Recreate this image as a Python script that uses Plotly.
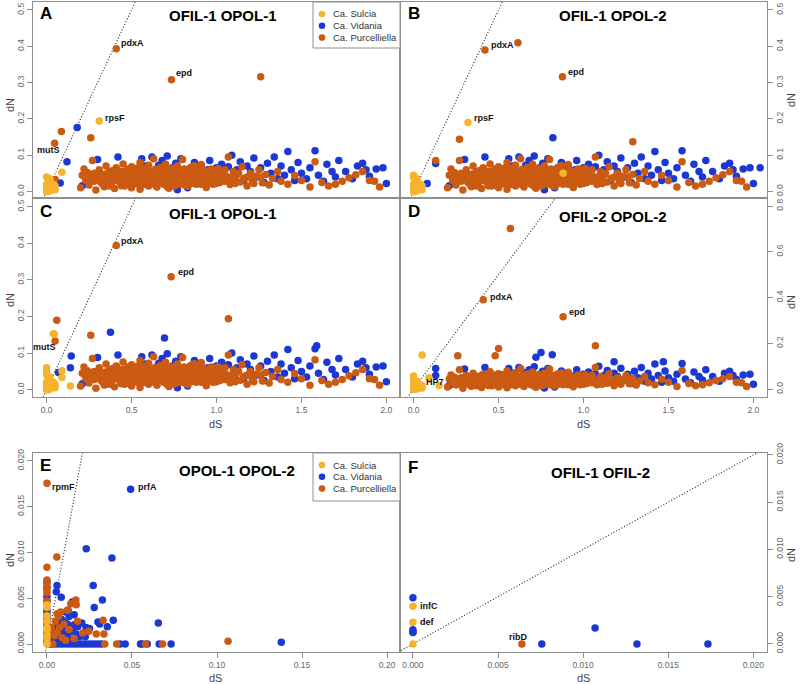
import plotly.graph_objects as go

YELLOW = "#F5B42C"
BLUE = "#1C38D4"
ORANGE = "#CB5A12"
FONT = "Liberation Sans, Arial, sans-serif"

species = ["Ca. Sulcia", "Ca. Vidania", "Ca. Purcelliella"]
species_colors = [YELLOW, BLUE, ORANGE]

# ---------------- shared bulk cloud (panels A-D), (dS, dN) ----------------
bulk_orange = [
    (0.20, 0.010), (0.21, 0.045), (0.22, 0.062), (0.23, 0.030), (0.24, 0.052), (0.25, 0.018), (0.26, 0.040),
    (0.27, 0.085), (0.28, 0.050), (0.29, 0.004), (0.30, 0.035), (0.31, 0.060), (0.32, 0.025), (0.33, 0.047),
    (0.34, 0.013), (0.35, 0.070), (0.36, 0.032), (0.37, 0.055), (0.38, 0.022), (0.39, 0.040), (0.40, 0.008),
    (0.41, 0.065), (0.42, 0.030), (0.43, 0.048), (0.44, 0.016), (0.45, 0.076), (0.46, 0.038), (0.47, 0.056),
    (0.48, 0.025), (0.49, 0.044), (0.50, 0.010), (0.50, 0.068), (0.51, 0.033), (0.52, 0.050), (0.53, 0.021),
    (0.54, 0.042), (0.55, 0.080), (0.55, 0.006), (0.56, 0.036), (0.57, 0.058), (0.58, 0.028), (0.59, 0.046),
    (0.60, 0.015), (0.60, 0.072), (0.61, 0.039), (0.62, 0.053), (0.62, 0.024), (0.63, 0.090), (0.64, 0.034),
    (0.64, 0.061), (0.65, 0.012), (0.66, 0.045), (0.66, 0.027), (0.67, 0.066), (0.68, 0.037), (0.68, 0.051),
    (0.69, 0.020), (0.70, 0.043), (0.70, 0.075), (0.71, 0.031), (0.72, 0.057), (0.72, 0.009), (0.73, 0.040),
    (0.74, 0.024), (0.74, 0.063), (0.75, 0.035), (0.76, 0.048), (0.76, 0.017), (0.77, 0.070), (0.78, 0.030),
    (0.78, 0.054), (0.79, 0.041), (0.80, 0.022), (0.80, 0.088), (0.81, 0.036), (0.82, 0.060), (0.83, 0.014),
    (0.84, 0.046), (0.84, 0.028), (0.85, 0.067), (0.86, 0.038), (0.87, 0.052), (0.88, 0.020), (0.89, 0.043),
    (0.90, 0.032), (0.91, 0.074), (0.92, 0.025), (0.93, 0.049), (0.94, 0.011), (0.95, 0.039), (0.96, 0.058),
    (0.97, 0.030), (0.98, 0.045), (1.00, 0.022), (1.01, 0.063), (1.02, 0.035), (1.03, 0.050), (1.05, 0.028),
    (1.06, 0.041), (1.07, 0.095), (1.08, 0.019), (1.10, 0.055), (1.11, 0.033), (1.12, 0.046), (1.14, 0.026),
    (1.15, 0.068), (1.17, 0.038), (1.18, 0.015), (1.20, 0.050), (1.21, 0.030), (1.23, 0.042), (1.25, 0.060),
    (1.27, 0.024), (1.29, 0.047), (1.31, 0.018), (1.33, 0.036), (1.36, 0.055), (1.38, 0.028), (1.42, 0.020),
    (1.46, 0.044), (1.50, 0.030), (1.55, 0.012), (1.58, 0.082), (1.62, 0.025), (1.66, 0.015), (1.70, 0.020),
    (1.74, 0.028), (1.78, 0.038), (1.82, 0.046), (1.86, 0.055), (1.90, 0.030), (1.93, 0.028), (1.96, 0.012),
    (0.44, 0.052), (0.47, 0.030), (0.49, 0.060), (0.52, 0.038), (0.54, 0.027), (0.57, 0.043), (0.58, 0.064),
    (0.59, 0.019), (0.61, 0.047), (0.63, 0.029), (0.65, 0.054), (0.67, 0.041), (0.69, 0.062), (0.71, 0.014),
    (0.73, 0.049), (0.75, 0.026), (0.77, 0.039), (0.79, 0.059), (0.81, 0.018), (0.83, 0.044), (0.85, 0.031),
    (0.87, 0.071), (0.88, 0.040), (0.90, 0.053), (0.92, 0.036), (0.53, 0.059), (0.56, 0.024), (0.60, 0.034),
    (0.62, 0.041), (0.66, 0.035), (0.70, 0.028), (0.72, 0.045), (0.74, 0.033), (0.76, 0.062), (0.78, 0.046),
    (0.82, 0.027), (0.86, 0.045), (0.48, 0.041), (0.51, 0.024), (0.46, 0.015), (0.31, 0.042), (0.35, 0.048),
    (0.38, 0.035), (0.41, 0.044), (0.43, 0.026), (0.34, 0.030), (0.39, 0.058), (0.45, 0.036), (0.28, 0.028),
    (0.24, 0.034),
]

core_orange = [
    (0.32, 0.040), (0.33, 0.020), (0.36, 0.045), (0.37, 0.015), (0.40, 0.052), (0.40, 0.030), (0.42, 0.058),
    (0.43, 0.040), (0.44, 0.030), (0.45, 0.055), (0.46, 0.025), (0.47, 0.045), (0.48, 0.062), (0.49, 0.020),
    (0.50, 0.038), (0.51, 0.055), (0.52, 0.028), (0.53, 0.045), (0.54, 0.065), (0.55, 0.035), (0.56, 0.050),
    (0.57, 0.020), (0.58, 0.040), (0.59, 0.060), (0.60, 0.025), (0.61, 0.055), (0.62, 0.035), (0.63, 0.048),
    (0.64, 0.018), (0.65, 0.040), (0.66, 0.060), (0.67, 0.030), (0.68, 0.045), (0.69, 0.035), (0.70, 0.055),
    (0.71, 0.042), (0.72, 0.025), (0.73, 0.060), (0.74, 0.045), (0.75, 0.015), (0.76, 0.040), (0.77, 0.055),
    (0.78, 0.022), (0.79, 0.033), (0.80, 0.048), (0.81, 0.062), (0.82, 0.040), (0.83, 0.030), (0.84, 0.055),
    (0.85, 0.022), (0.86, 0.030), (0.87, 0.040), (0.88, 0.058), (0.89, 0.030), (0.90, 0.045), (0.91, 0.020),
    (0.92, 0.060), (0.93, 0.035), (0.94, 0.050), (0.95, 0.025), (0.96, 0.040), (0.97, 0.062), (0.98, 0.020),
    (0.99, 0.035), (1.00, 0.050), (1.02, 0.025), (1.04, 0.045), (1.05, 0.060), (1.07, 0.030), (1.09, 0.040),
    (1.11, 0.022), (1.13, 0.050), (1.16, 0.035), (1.19, 0.042), (1.22, 0.022), (1.26, 0.040), (0.55, 0.048),
    (0.63, 0.038), (0.67, 0.050), (0.71, 0.022), (0.58, 0.052), (0.61, 0.030), (0.65, 0.028), (0.69, 0.048),
    (0.73, 0.030), (0.77, 0.028), (0.81, 0.045), (0.75, 0.052), (0.79, 0.050), (0.83, 0.050),
]

bulk_blue = [
    (0.21, 0.016), (0.27, 0.045), (0.30, 0.088), (0.38, 0.028), (0.42, 0.095), (0.48, 0.038), (0.52, 0.062),
    (0.56, 0.090), (0.58, 0.070), (0.60, 0.045), (0.62, 0.095), (0.64, 0.030), (0.66, 0.072), (0.68, 0.085),
    (0.70, 0.055), (0.71, 0.098), (0.72, 0.040), (0.74, 0.065), (0.76, 0.078), (0.77, 0.005), (0.79, 0.090),
    (0.80, 0.050), (0.82, 0.035), (0.83, 0.010), (0.84, 0.062), (0.86, 0.045), (0.87, 0.080), (0.89, 0.055),
    (0.91, 0.070), (0.93, 0.040), (0.95, 0.060), (0.96, 0.085), (0.98, 0.048), (1.00, 0.065), (1.02, 0.052),
    (1.03, 0.075), (1.05, 0.038), (1.07, 0.068), (1.09, 0.100), (1.10, 0.045), (1.12, 0.060), (1.14, 0.082),
    (1.16, 0.030), (1.18, 0.070), (1.20, 0.055), (1.22, 0.092), (1.24, 0.040), (1.26, 0.065), (1.28, 0.025),
    (1.30, 0.078), (1.32, 0.050), (1.34, 0.095), (1.36, 0.035), (1.38, 0.070), (1.40, 0.045), (1.42, 0.110),
    (1.44, 0.060), (1.46, 0.030), (1.48, 0.080), (1.50, 0.050), (1.53, 0.035), (1.55, 0.065), (1.58, 0.112),
    (1.60, 0.045), (1.63, 0.028), (1.65, 0.075), (1.68, 0.055), (1.70, 0.040), (1.72, 0.085), (1.76, 0.055),
    (1.80, 0.035), (1.83, 0.070), (1.86, 0.078), (1.88, 0.060), (1.90, 0.042), (1.94, 0.062), (1.98, 0.065),
    (2.00, 0.022),
]

yellow_cluster = [
    (0.00, 0.000), (0.01, 0.005), (0.02, 0.010), (0.00, 0.020), (0.01, 0.030), (0.02, 0.035), (0.03, 0.020),
    (0.04, 0.010), (0.03, 0.005), (0.00, 0.010), (0.01, 0.015), (0.02, 0.025), (0.05, 0.005), (0.04, 0.020),
    (0.00, 0.040), (0.01, 0.000), (0.03, 0.012), (0.05, 0.015), (0.02, 0.002),
]

# ---------------- panel-specific points ----------------
A_orange = [(0.41, 0.393), (0.735, 0.308), (1.26, 0.316), (0.047, 0.133), (0.087, 0.165), (0.26, 0.148), (0.05, 0.033)]
A_blue = [(0.18, 0.176), (0.12, 0.082), (0.08, 0.023)]
A_yellow = [(0.31, 0.194), (0.09, 0.053)]

B_orange = [(0.42, 0.39), (0.614, 0.41), (0.876, 0.316), (0.27, 0.144), (1.29, 0.137), (0.13, 0.085)]
B_blue = [(0.82, 0.148), (0.13, 0.077), (0.08, 0.022), (2.04, 0.065)]
B_yellow = [(0.32, 0.19), (0.0, 0.045), (0.88, 0.05)]

C_orange = [(0.41, 0.394), (0.733, 0.309), (1.07, 0.194), (0.06, 0.19), (0.26, 0.149), (0.05, 0.133)]
C_blue = [(0.376, 0.157), (0.694, 0.141), (0.07, 0.047), (0.145, 0.092), (0.14, 0.06), (1.59, 0.12)]
C_yellow = [(0.0, 0.06), (0.0, 0.05), (0.09, 0.052), (0.14, 0.01), (0.09, 0.033), (0.04, 0.153), (0.045, 0.152)]

D_orange = [(0.57, 0.702), (0.41, 0.391), (0.88, 0.316), (1.07, 0.19), (0.50, 0.178), (0.26, 0.146), (0.48, 0.146)]
D_blue = [(0.72, 0.14), (0.75, 0.16), (0.816, 0.151), (1.18, 0.12), (1.47, 0.12), (0.13, 0.09), (0.13, 0.06)]
D_yellow = [(0.05, 0.149), (0.0, 0.058), (0.09, 0.05), (0.15, 0.016)]

E_orange = [
    (0.0, 0.01756), (0.0058, 0.0095), (0.0, 0.0084), (0.0, 0.0070), (0.0, 0.0065), (0.0, 0.0059), (0.0, 0.0056),
    (0.0, 0.0047), (0.0, 0.0030), (0.0, 0.0020), (0.0, 0.0008), (0.0060, 0.0033), (0.0080, 0.0035),
    (0.0068, 0.0030), (0.0120, 0.0037), (0.0140, 0.0044), (0.0170, 0.0048), (0.0172, 0.0043), (0.0100, 0.0022),
    (0.0075, 0.0018), (0.0060, 0.0013), (0.0045, 0.0009), (0.0030, 0.0011), (0.0090, 0.0007), (0.0130, 0.0016),
    (0.0180, 0.0025), (0.0210, 0.0012), (0.0245, 0.0014), (0.0290, 0.0011), (0.0335, 0.0011), (0.0330, 0.0026),
    (0.0160, 0.0006), (0.0110, 0.0004), (0.0050, 0.0025), (0.0025, 0.0018), (0.1065, 0.0003), (0.034, 0.0),
    (0.041, 0.0), (0.058, 0.0), (0.068, 0.0), (0.0035, 0.0), (0.0015, 0.0),
]
E_blue = [
    (0.0492, 0.0169), (0.0231, 0.0104), (0.0382, 0.0094), (0.0059, 0.0064), (0.0055, 0.0057), (0.0084, 0.0051),
    (0.0149, 0.0046), (0.0124, 0.0037), (0.0326, 0.0048), (0.0278, 0.0040), (0.0272, 0.0064), (0.0390, 0.0026),
    (0.0300, 0.0024), (0.0310, 0.0022), (0.0230, 0.0018), (0.0250, 0.0017), (0.0205, 0.0023), (0.0180, 0.0019),
    (0.0160, 0.0021), (0.0140, 0.0018), (0.0120, 0.0022), (0.0100, 0.0024), (0.0085, 0.0027), (0.0070, 0.0025),
    (0.0060, 0.0019), (0.0050, 0.0012), (0.0090, 0.0014), (0.0110, 0.0010), (0.0130, 0.0013), (0.0150, 0.0015),
    (0.0170, 0.0011), (0.0190, 0.0008), (0.0080, 0.0008), (0.0065, 0.0004), (0.0040, 0.0006), (0.0100, 0.0005),
    (0.0125, 0.0007), (0.0145, 0.0003), (0.0160, 0.0032), (0.0130, 0.0030), (0.0110, 0.0035), (0.0095, 0.0020),
    (0.0355, 0.0019), (0.0225, 0.0008), (0.0655, 0.0023), (0.1378, 0.0002),
    (0.0, 0.0068), (0.0, 0.0062), (0.0, 0.0052), (0.0, 0.0047), (0.0, 0.0037), (0.0, 0.0033), (0.0, 0.0027),
    (0.0, 0.0022), (0.0, 0.0013), (0.0, 0.0010), (0.0, 0.0006), (0.0, 0.0003),
    (0.002, 0.0), (0.004, 0.0), (0.006, 0.0), (0.008, 0.0), (0.010, 0.0), (0.012, 0.0), (0.014, 0.0),
    (0.016, 0.0), (0.018, 0.0), (0.020, 0.0), (0.022, 0.0), (0.024, 0.0), (0.026, 0.0), (0.028, 0.0),
    (0.030, 0.0), (0.032, 0.0), (0.043, 0.0), (0.046, 0.0), (0.055, 0.0), (0.056, 0.0), (0.059, 0.0),
    (0.066, 0.0), (0.073, 0.0),
]
E_yellow = [(0.0, 0.0043), (0.0, 0.0040), (0.0, 0.0031), (0.0, 0.0025), (0.0, 0.0018), (0.0, 0.0015),
            (0.0, 0.0010), (0.0, 0.0006), (0.0, 0.0)]

F_orange = [(0.0064, 0.0)]
F_blue = [(0.0, 0.0049), (0.0, 0.0015), (0.0, 0.0013), (0.0, 0.0012), (0.0107, 0.0017), (0.00757, 0.0),
          (0.01316, 0.0), (0.01733, 0.0)]
F_yellow = [(0.0, 0.0040), (0.0, 0.0023), (0.0, 0.0)]

panel_points = {
    "A": (bulk_orange + core_orange + A_orange, bulk_blue + A_blue, yellow_cluster + A_yellow),
    "B": (bulk_orange + core_orange + B_orange, bulk_blue + B_blue, yellow_cluster + B_yellow),
    "C": (bulk_orange + core_orange + C_orange, bulk_blue + C_blue, yellow_cluster + C_yellow),
    "D": (bulk_orange + core_orange + D_orange, bulk_blue + D_blue, yellow_cluster + D_yellow),
    "E": (E_orange, E_blue, E_yellow),
    "F": (F_orange, F_blue, F_yellow),
}

panel_titles = {"A": "OFIL-1 OPOL-1", "B": "OFIL-1 OPOL-2", "C": "OFIL-1 OPOL-1",
                "D": "OFIL-2 OPOL-2", "E": "OPOL-1 OPOL-2", "F": "OFIL-1 OFIL-2"}

# gene labels: panel -> list of (label, dS, dN, xanchor, xshift, yshift)
gene_labels = {
    "A": [("pdxA", 0.41, 0.393, "left", 3, 6), ("epd", 0.735, 0.308, "left", 3, 7),
          ("rpsF", 0.31, 0.194, "left", 4, 3), ("mutS", 0.01, 0.113, "center", 0, 0)],
    "B": [("pdxA", 0.42, 0.39, "left", 4, 5), ("epd", 0.876, 0.316, "left", 4, 5),
          ("rpsF", 0.32, 0.19, "left", 4, 5)],
    "C": [("pdxA", 0.41, 0.394, "left", 3, 5), ("epd", 0.733, 0.309, "left", 5, 5),
          ("mutS", -0.01, 0.118, "center", 0, 0)],
    "D": [("pdxA", 0.41, 0.391, "left", 5, 3), ("epd", 0.88, 0.316, "left", 4, 5),
          ("HP7", 0.06, 0.031, "left", 0, 0)],
    "E": [("rpmF", 0.0, 0.01756, "left", 3, -4), ("prfA", 0.0492, 0.01694, "left", 5, 2)],
    "F": [("infC", 0.0, 0.0040, "left", 5, 0), ("def", 0.0, 0.0023, "left", 5, 0),
          ("ribD", 0.0064, 0.0, "center", -3, 7)],
}

# ---------------- layout geometry ----------------
W, H = 800, 684
ML, MR, MT, MB = 33, 33, 2, 32
PW, PH = W - ML - MR, H - MT - MB


def xp(px):
    return (px - ML) / PW


def yp(py):
    return (H - MB - py) / PH


panels = ["A", "B", "C", "D", "E", "F"]
xdom = {"A": [0, 0.5], "C": [0, 0.5], "E": [0, 0.5], "B": [0.5, 1], "D": [0.5, 1], "F": [0.5, 1]}
ydom = {"A": [yp(198), 1], "B": [yp(198), 1], "C": [yp(397), yp(198)], "D": [yp(397), yp(198)],
        "E": [0, yp(453)], "F": [0, yp(453)]}
xrng = {"A": [-0.08, 2.08], "B": [-0.08, 2.08], "C": [-0.08, 2.08], "D": [-0.08, 2.08],
        "E": [-0.0082, 0.2076], "F": [-0.00076, 0.0208]}
yrng = {"A": [-0.018, 0.522], "B": [-0.018, 0.522], "C": [-0.02, 0.524], "D": [-0.034, 0.835],
        "E": [-0.00087, 0.02087], "F": [-0.00085, 0.0202]}
xticks = {"A": None, "B": None, "C": [0, 0.5, 1.0, 1.5, 2.0], "D": [0, 0.5, 1.0, 1.5, 2.0],
          "E": [0, 0.05, 0.10, 0.15, 0.20], "F": [0, 0.005, 0.010, 0.015, 0.020]}
xfmt = {"C": ".1f", "D": ".1f", "E": ".2f", "F": ".3f"}
yticks = {"A": [0, 0.1, 0.2, 0.3, 0.4, 0.5], "B": [0, 0.1, 0.2, 0.3, 0.4, 0.5],
          "C": [0, 0.1, 0.2, 0.3, 0.4, 0.5], "D": [0, 0.2, 0.4, 0.6, 0.8],
          "E": [0, 0.005, 0.010, 0.015, 0.020], "F": [0, 0.005, 0.010, 0.015, 0.020]}
yfmt = {"A": ".1f", "B": ".1f", "C": ".1f", "D": ".1f", "E": ".3f", "F": ".3f"}
yside = {"A": "left", "C": "left", "E": "left", "B": "right", "D": "right", "F": "right"}

fig = go.Figure()
LINE = "#8f8f8f"
TICKFONT = dict(family=FONT, size=8.5, color="#666666")
TITLEFONT = dict(family=FONT, size=11, color="#444444")

for i, p in enumerate(panels, start=1):
    xa = "x" if i == 1 else f"x{i}"
    ya = "y" if i == 1 else f"y{i}"
    orange, blue, yellow = panel_points[p]
    # y = x reference line (dN = dS)
    lo, hi = min(xrng[p][0], yrng[p][0]), max(xrng[p][1], yrng[p][1])
    fig.add_trace(go.Scatter(x=[lo, hi], y=[lo, hi], mode="lines", xaxis=xa, yaxis=ya,
                             line=dict(color="#222222", width=1.1, dash="1px,2px"),
                             showlegend=False, hoverinfo="skip"))
    for pts, color, name in ((blue, BLUE, species[1]), (orange, ORANGE, species[2]),
                             (yellow, YELLOW, species[0])):
        fig.add_trace(go.Scatter(x=[a for a, b in pts], y=[b for a, b in pts], mode="markers",
                                 xaxis=xa, yaxis=ya, name=name, showlegend=False,
                                 marker=dict(color=color, size=7.5, line=dict(width=0))))

    xkey = "xaxis" if i == 1 else f"xaxis{i}"
    ykey = "yaxis" if i == 1 else f"yaxis{i}"
    xcfg = dict(domain=xdom[p], range=xrng[p], anchor=ya, showgrid=False, zeroline=False,
                showline=True, linecolor=LINE, linewidth=1, mirror=True, tickfont=TICKFONT,
                automargin=False)
    if xticks[p] is None:
        xcfg.update(showticklabels=False, ticks="")
    else:
        xcfg.update(tickvals=xticks[p], tickformat=xfmt[p], ticks="outside", ticklen=5,
                    tickcolor=LINE)
    ycfg = dict(domain=ydom[p], range=yrng[p], anchor=xa, side=yside[p], showgrid=False,
                zeroline=False, showline=True, linecolor=LINE, linewidth=1, mirror=True,
                tickvals=yticks[p], tickformat=yfmt[p], tickangle=-90, ticks="outside",
                ticklen=5, tickcolor=LINE, tickfont=TICKFONT, automargin=False)
    fig.update_layout(**{xkey: xcfg, ykey: ycfg})

    # gene labels
    for lab, dsv, dnv, anc, xs, ys in gene_labels[p]:
        fig.add_annotation(x=dsv, y=dnv, xref=xa, yref=ya, text=f"<b>{lab}</b>", showarrow=False,
                           xanchor=anc, yanchor="middle", xshift=xs, yshift=ys,
                           font=dict(family=FONT, size=9, color="#111111"))

# axis titles (pixel positions -> paper)
dn_pos = {"A": (10, 105), "C": (10, 300), "E": (10, 560), "B": (791, 100), "D": (791, 302), "F": (791, 555)}
ds_pos = {"C": (215, 424), "D": (583, 424), "E": (215, 678), "F": (583, 678)}
for p, (tx, ty) in dn_pos.items():
    fig.add_annotation(x=xp(tx), y=yp(ty), xref="paper", yref="paper", text="dN", textangle=-90,
                       showarrow=False, xanchor="center", yanchor="middle", font=TITLEFONT)
for p, (tx, ty) in ds_pos.items():
    fig.add_annotation(x=xp(tx), y=yp(ty), xref="paper", yref="paper", text="dS",
                       showarrow=False, xanchor="center", yanchor="middle", font=TITLEFONT)

# panel letters and titles
letter_pos = {"A": (38, 13), "B": (406, 13), "C": (38, 212), "D": (406, 212), "E": (38, 466), "F": (406, 467)}
title_pos = {"A": (223, 16), "B": (613, 16), "C": (223, 214), "D": (613, 216), "E": (237, 470), "F": (600, 472)}
for p in panels:
    lx, ly = letter_pos[p]
    fig.add_annotation(x=xp(lx), y=yp(ly), xref="paper", yref="paper", text=f"<b>{p}</b>",
                       showarrow=False, xanchor="left", yanchor="middle",
                       font=dict(family=FONT, size=17, color="#000000"))
    tx, ty = title_pos[p]
    fig.add_annotation(x=xp(tx), y=yp(ty), xref="paper", yref="paper", text=f"<b>{panel_titles[p]}</b>",
                       showarrow=False, xanchor="center", yanchor="middle",
                       font=dict(family=FONT, size=15, color="#000000"))

# legends (panels A and E), drawn as boxed keys
legend_boxes = {"A": (313, 2, 400, 48), "E": (313, 453, 400, 501)}
for p, (x0, y0, x1, y1) in legend_boxes.items():
    fig.add_shape(type="rect", xref="paper", yref="paper", x0=xp(x0), x1=xp(x1), y0=yp(y1), y1=yp(y0),
                  line=dict(color=LINE, width=1), fillcolor="white", layer="above")
    for k, (name, color) in enumerate(zip(species, species_colors)):
        cy = y0 + 12 + k * 11.8
        cx = 322
        fig.add_shape(type="circle", xref="paper", yref="paper", x0=xp(cx - 3.3), x1=xp(cx + 3.3),
                      y0=yp(cy + 3.3), y1=yp(cy - 3.3), fillcolor=color, line=dict(width=0), layer="above")
        fig.add_annotation(x=xp(331), y=yp(cy), xref="paper", yref="paper", text=name, showarrow=False,
                           xanchor="left", yanchor="middle",
                           font=dict(family=FONT, size=9.5, color="#333333"))

fig.update_layout(width=W, height=H, margin=dict(l=ML, r=MR, t=MT, b=MB, autoexpand=False),
                  paper_bgcolor="white", plot_bgcolor="white", showlegend=False,
                  font=dict(family=FONT))

fig.write_html("out.html", config={"displayModeBar": False},
               post_script="document.body.style.margin='0px';")
